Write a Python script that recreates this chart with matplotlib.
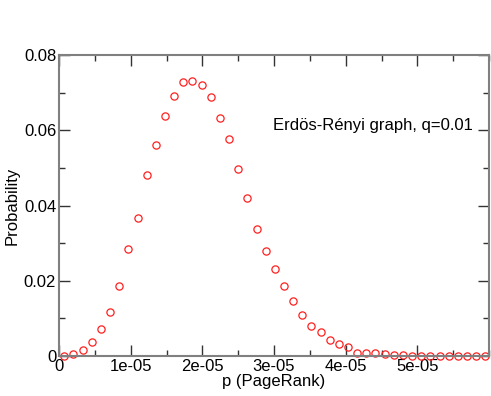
import matplotlib
matplotlib.use("Agg")
import matplotlib.pyplot as plt
from matplotlib.ticker import MultipleLocator, FixedLocator

plt.rcParams['font.family'] = ['Liberation Sans', 'DejaVu Sans']

x_e6 = [0.74, 2.02, 3.29, 4.57, 5.85, 7.13, 8.40, 9.68, 10.96, 12.23, 13.51, 14.79,
        16.06, 17.34, 18.62, 19.90, 21.17, 22.45, 23.73, 25.00, 26.28, 27.56, 28.83,
        30.11, 31.39, 32.67, 33.94, 35.22, 36.50, 37.77, 39.05, 40.33, 41.60, 42.88,
        44.16, 45.44, 46.71, 47.99, 49.27, 50.54, 51.82, 53.10, 54.37, 55.65, 56.93,
        58.21, 59.48]
prob = [0.0000, 0.0006, 0.0017, 0.0036, 0.0073, 0.0116, 0.0187, 0.0285, 0.0367,
        0.0482, 0.0560, 0.0638, 0.0691, 0.0729, 0.0730, 0.0719, 0.0689, 0.0633,
        0.0576, 0.0497, 0.0420, 0.0337, 0.0279, 0.0230, 0.0185, 0.0145, 0.0109,
        0.0080, 0.0063, 0.0042, 0.0032, 0.0023, 0.0009, 0.0009, 0.0007, 0.0005,
        0.0003, 0.0002, 0.0001, 0.0001, 0.0001, 0.0000, 0.0000, 0.0000, 0.0000,
        0.0000, 0.0000]
x = [v * 1e-6 for v in x_e6]

xticks = [0, 1e-5, 2e-5, 3e-5, 4e-5, 5e-5]
xticklabels = ["0", "1e-05", "2e-05", "3e-05", "4e-05", "5e-05"]
yticks = [0, 0.02, 0.04, 0.06, 0.08]
yticklabels = ["0", "0.02", "0.04", "0.06", "0.08"]

fs = 12
fig = plt.figure(figsize=(4.91, 3.96), dpi=100)
ax = fig.add_axes([59/491, 40/396, 430/491, 301/396])
ax.plot(x, prob, linestyle='none', marker='o', markersize=5.2,
        markerfacecolor='none', markeredgecolor='#ff2020', markeredgewidth=0.9,
        clip_on=False)
ax.set_xlim(0, 6e-5)
ax.set_ylim(0, 0.08)
ax.set_xticks(xticks)
ax.set_xticklabels(xticklabels)
ax.set_yticks(yticks)
ax.set_yticklabels(yticklabels)
ax.xaxis.set_minor_locator(MultipleLocator(0.5e-5))
ax.yaxis.set_minor_locator(MultipleLocator(0.01))
for s in ax.spines.values():
    s.set_color('#808080')
    s.set_linewidth(1.5)
ax.tick_params(which='both', direction='in', top=True, right=True,
               color='#333333', labelsize=fs, width=1)
ax.tick_params(which='major', length=8, pad=2)
ax.tick_params(which='minor', length=4)
ax.set_xlabel("p (PageRank)", fontsize=fs, labelpad=0)
ax.set_ylabel("Probability", fontsize=fs, labelpad=3)
ax.text(0.963, 0.767, "Erdös-Rényi graph, q=0.01", transform=ax.transAxes,
        ha='right', va='center', fontsize=fs)
fig.savefig("out.png", dpi=100)
